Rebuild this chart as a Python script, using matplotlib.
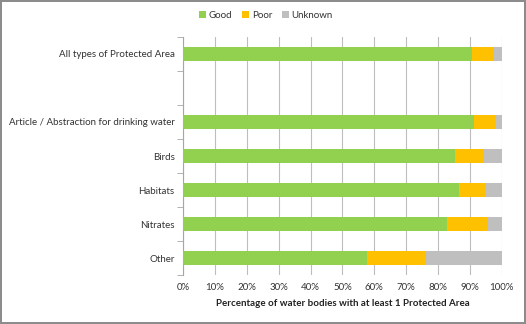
import numpy as np
from matplotlib import pyplot as plt
from matplotlib.ticker import FuncFormatter

plt.rcParams['font.family'] = ['Lato', 'DejaVu Sans']

categories = ["All types of Protected Area", "",
              "Article / Abstraction for drinking water",
              "Birds", "Habitats", "Nitrates", "Other"]
good = [90.5, 0, 91.2, 85.2, 86.5, 82.7, 57.8]
poor = [7.0, 0, 7.0, 9.2, 8.6, 13.0, 18.3]
unknown = [2.5, 0, 1.8, 5.6, 4.9, 4.3, 23.9]

fig = plt.figure(figsize=(5.26, 3.24), dpi=100)
fig.patch.set_edgecolor("#8c8c8c")
fig.patch.set_linewidth(1.5)
ax = fig.add_axes([0.348, 0.151, 0.606, 0.735])

y = np.arange(len(categories))
h = 0.42
good = np.array(good)
poor = np.array(poor)
unknown = np.array(unknown)

ax.barh(y, good, h, color="#92D050", label="Good", zorder=3)
ax.barh(y, poor, h, left=good, color="#FFC000", label="Poor", zorder=3)
ax.barh(y, unknown, h, left=good + poor, color="#BFBFBF", label="Unknown", zorder=3)

ax.set_ylim(len(categories) - 0.5, -0.5)
ax.set_xlim(0, 100)
ax.set_xticks(np.arange(0, 101, 10))
ax.xaxis.set_major_formatter(FuncFormatter(lambda v, p: "%d%%" % v))
ax.set_yticks(y)
ax.set_yticklabels(categories)
ax.set_yticks(np.arange(-0.5, len(categories)), minor=True)
ax.tick_params(axis="y", which="major", length=0, labelsize=7, pad=6, colors="#333333")
ax.tick_params(axis="y", which="minor", length=4, color="#a6a6a6")
ax.tick_params(axis="x", length=0, labelsize=7, pad=6, colors="#333333")

ax.grid(axis="x", color="#bdbdbd", linewidth=0.8, zorder=0)
for s in ["top", "right", "bottom"]:
    ax.spines[s].set_visible(False)
ax.spines["left"].set_color("#a6a6a6")

ax.set_xlabel("Percentage of water bodies with at least 1 Protected Area",
              fontsize=7, fontweight="bold", labelpad=5, color="#222222")

ax.legend(loc="center", bbox_to_anchor=(0.26, 1.09), ncol=3, frameon=False,
          fontsize=7, handlelength=0.7, handleheight=0.7, handletextpad=0.3,
          columnspacing=1.0, labelcolor="#333333")

plt.savefig("out.png", dpi=100, edgecolor=fig.get_edgecolor())
